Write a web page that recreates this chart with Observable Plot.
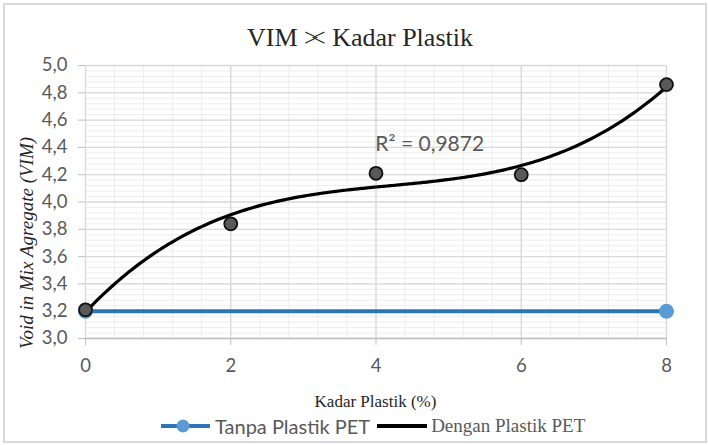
<!DOCTYPE html>
<html>
<head>
<meta charset="utf-8">
<script src="https://cdn.jsdelivr.net/npm/d3@7"></script>
<script src="https://cdn.jsdelivr.net/npm/@observablehq/plot@0.6"></script>
<style>
  html, body { margin: 0; padding: 0; background: #fff; }
  #chart { position: relative; width: 708px; height: 445px; overflow: hidden; }
  #frame { position: absolute; left: 3px; top: 3px; width: 700px; height: 436px; border: 2px solid #d9d9d9; }
  #title { position: absolute; left: 6px; width: 708px; top: 23px; text-align: center;
           font-family: "Liberation Serif", serif; font-size: 26px; color: #262626; white-space: nowrap; }
  #title .gt { letter-spacing: -0.3em; }
  #ylabel { position: absolute; left: 27px; top: 243px; transform: translate(-50%, -50%) rotate(-90deg);
            white-space: nowrap; font-family: "Liberation Serif", serif; font-style: italic; font-size: 19px; color: #262626; }
  #xlabel { position: absolute; left: 85px; width: 581px; top: 392px; text-align: center;
            font-family: "Liberation Serif", serif; font-size: 17px; color: #262626; }
  #legend { position: absolute; top: 414px; left: 160px; display: flex; align-items: center; color: #595959; }
  #legend svg { display: block; }
  .lg-sans { font-family: "Lato", sans-serif; font-size: 20px; margin-left: 4px; margin-right: 6px; }
  .lg-serif { font-family: "Liberation Serif", serif; font-size: 19px; margin-left: 3px; }
  #plot { position: absolute; left: 0; top: 0; }
</style>
</head>
<body>
<div id="chart">
  <div id="frame"></div>
  <div id="plot"></div>
  <div id="title">VIM <span class="gt">&gt;</span>&lt; Kadar Plastik</div>
  <div id="ylabel">Void in Mix Agregate (VIM)</div>
  <div id="xlabel">Kadar Plastik (%)</div>
  <div id="legend">
    <svg width="51" height="24"><line x1="1" y1="12" x2="50" y2="12" stroke="#2e75b6" stroke-width="4"/><circle cx="23" cy="12" r="6.5" fill="#5b9bd5"/></svg>
    <span class="lg-sans">Tanpa Plastik PET</span>
    <svg width="52" height="24"><line x1="1" y1="12" x2="51" y2="12" stroke="#000" stroke-width="4"/></svg>
    <span class="lg-serif">Dengan Plastik PET</span>
  </div>
</div>
<script>
// Plastic content (%) and VIM values
const kadarPlastik = [0, 2, 4, 6, 8];
const vimDengan = [3.21, 3.84, 4.21, 4.20, 4.86];
const kadarTanpa = [0, 8];
const vimTanpa = [3.2, 3.2];
const xTicks = [0, 2, 4, 6, 8];
const yTicks = [3.0, 3.2, 3.4, 3.6, 3.8, 4.0, 4.2, 4.4, 4.6, 4.8, 5.0];
const r2Label = "R² = 0,9872";

// Least-squares cubic trendline through the "Dengan Plastik PET" points
function polyFit(xs, ys, order) {
  const n = order + 1;
  const A = Array.from({length: n}, () => new Array(n + 1).fill(0));
  for (let r = 0; r < n; r++) {
    for (let c = 0; c < n; c++) A[r][c] = d3.sum(xs, x => Math.pow(x, r + c));
    A[r][n] = d3.sum(xs, (x, i) => ys[i] * Math.pow(x, r));
  }
  for (let i = 0; i < n; i++) {
    let p = i;
    for (let k = i + 1; k < n; k++) if (Math.abs(A[k][i]) > Math.abs(A[p][i])) p = k;
    [A[i], A[p]] = [A[p], A[i]];
    for (let k = 0; k < n; k++) {
      if (k === i) continue;
      const f = A[k][i] / A[i][i];
      for (let c = i; c <= n; c++) A[k][c] -= f * A[i][c];
    }
  }
  return A.map((row, i) => row[n] / row[i]);
}
const coef = polyFit(kadarPlastik, vimDengan, 3);
const trend = d3.range(0, 8.0001, 0.05).map(x => ({x, y: coef.reduce((s, c, i) => s + c * Math.pow(x, i), 0)}));

const dengan = kadarPlastik.map((x, i) => ({x, y: vimDengan[i]}));
const tanpa = kadarTanpa.map((x, i) => ({x, y: vimTanpa[i]}));

const minorX = d3.range(0, 8.0001, 0.4);
const minorY = d3.range(3, 5.0001, 0.04);
const fmt = d => d.toFixed(1).replace(".", ",");

const chart = Plot.plot({
  width: 708,
  height: 445,
  marginLeft: 85,
  marginRight: 42,
  marginTop: 65,
  marginBottom: 107,
  style: {background: "transparent", fontFamily: "Lato, sans-serif"},
  x: {domain: [0, 8]},
  y: {domain: [3, 5]},
  marks: [
    Plot.ruleX(minorX, {stroke: "#ededed", strokeWidth: 1}),
    Plot.ruleY(minorY, {stroke: "#ededed", strokeWidth: 1}),
    Plot.ruleX(xTicks, {stroke: "#d9d9d9", strokeWidth: 1.3}),
    Plot.ruleY(yTicks, {stroke: "#d9d9d9", strokeWidth: 1.3}),
    Plot.ruleY([3], {stroke: "#bfbfbf", strokeWidth: 1.5}),
    Plot.axisX({ticks: xTicks, tickFormat: d => String(d), tickSize: 7, tickPadding: 13,
      stroke: "#bfbfbf", fill: "#595959", fontSize: 18.5, label: null}),
    Plot.axisY({ticks: yTicks, tickFormat: fmt, tickSize: 7, tickPadding: 11,
      stroke: "#bfbfbf", fill: "#595959", fontSize: 18.5, label: null}),
    Plot.line(tanpa, {x: "x", y: "y", stroke: "#2e75b6", strokeWidth: 4}),
    Plot.dot(tanpa, {x: "x", y: "y", r: 7.5, fill: "#5b9bd5", stroke: "none"}),
    Plot.line(trend, {x: "x", y: "y", stroke: "#000", strokeWidth: 3.2, curve: "natural"}),
    Plot.dot(dengan, {x: "x", y: "y", r: 6.5, fill: "#595959", stroke: "#111", strokeWidth: 1.8}),
    Plot.text([r2Label], {x: 4.74, y: 4.42, text: d => d, fill: "#595959", fontSize: 21,
      fontFamily: "Lato, sans-serif", textAnchor: "middle"})
  ]
});
document.getElementById("plot").appendChild(chart);
</script>
</body>
</html>
